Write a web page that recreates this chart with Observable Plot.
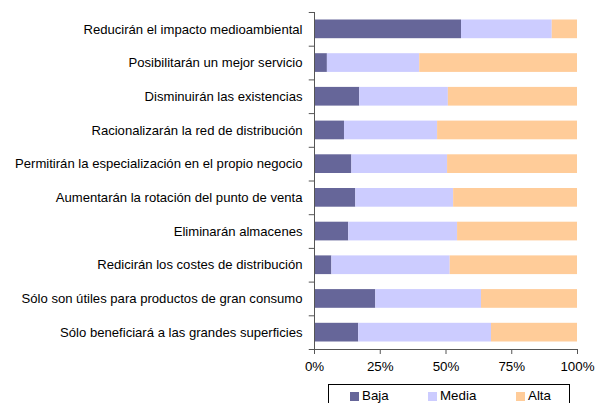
<!DOCTYPE html>
<html>
<head>
<meta charset="utf-8">
<script src="https://cdn.jsdelivr.net/npm/d3@7"></script>
<script src="https://cdn.jsdelivr.net/npm/@observablehq/plot@0.6"></script>
<style>
html, body { margin: 0; padding: 0; background: #fff; overflow: hidden; }
#wrap { position: relative; width: 595px; height: 403px; font-family: "Liberation Sans", Arial, sans-serif; }
#legend { position: absolute; left: 328px; top: 384px; width: 242px; height: 30px; border: 1px solid #000; box-sizing: border-box; font-size: 13.33px; }
.sw { position: absolute; top: 7px; width: 9px; height: 9px; }
.tx { position: absolute; top: 4px; line-height: 13px; color: #000; }
</style>
</head>
<body>
<div id="wrap"><div id="chart"></div><div id="legend"></div></div>
<script>
const categories = [
  "Reducirán el impacto medioambiental",
  "Posibilitarán un mejor servicio",
  "Disminuirán las existencias",
  "Racionalizarán la red de distribución",
  "Permitirán la especialización en el propio negocio",
  "Aumentarán la rotación del punto de venta",
  "Eliminarán almacenes",
  "Redicirán los costes de distribución",
  "Sólo son útiles para productos de gran consumo",
  "Sólo beneficiará a las grandes superficies"
];
const series = ["Baja", "Media", "Alta"];
const baja  = [55.9, 4.9, 17.2, 11.4, 14.2, 15.7, 13.0, 6.6, 23.3, 16.8];
const media = [34.5, 35.1, 33.7, 35.4, 36.4, 37.2, 41.4, 45.0, 40.2, 50.5];
const alta  = [9.6, 60.0, 49.1, 53.2, 49.4, 47.1, 45.6, 48.4, 36.5, 32.7];
const colors = ["#666699", "#CCCCFF", "#FFCC99"];
const xTicks = [0, 25, 50, 75, 100];

const values = [baja, media, alta];
const data = [];
categories.forEach((c, i) => series.forEach((s, j) => data.push({cat: c, serie: s, value: values[j][i]})));

const W = 595, H = 380, mt = 12, mb = 31;
const step = (H - mt - mb) / categories.length;

const plot = Plot.plot({
  width: W,
  height: H,
  marginLeft: 314,
  marginRight: 18,
  marginTop: mt,
  marginBottom: mb,
  style: {fontFamily: "'Liberation Sans', Arial, sans-serif", fontSize: "13.1px", color: "#000"},
  x: {domain: [0, 100], ticks: xTicks, tickFormat: d => d + "%", label: null},
  y: {domain: categories, paddingInner: 0.445, paddingOuter: 0.2225, round: false, label: null},
  color: {domain: series, range: colors},
  marks: [
    Plot.barX(data, Plot.stackX({y: "cat", x: "value", fill: "serie", order: series})),
    Plot.axisY({tickSize: 0, tickPadding: 12, fontSize: 13.1, fill: "#000"}),
    Plot.axisX({ticks: xTicks, tickFormat: d => d + "%", tickSize: 5, tickPadding: 7, fontSize: 13.33, stroke: "#555", fill: "#000"}),
    Plot.ruleY(categories, {y: d => d, dy: -step / 2, x1: -2, x2: 0, stroke: "#555"}),
    Plot.ruleY(categories.slice(-1), {y: d => d, dy: step / 2, x1: -2, x2: 0, stroke: "#555"}),
    Plot.ruleX([0], {stroke: "#555"}),
    Plot.ruleY(categories.slice(-1), {y: d => d, dy: step / 2, stroke: "#555"})
  ]
});
document.getElementById("chart").appendChild(plot);

const legend = document.getElementById("legend");
const pos = [21, 99, 187];
series.forEach((s, j) => {
  const sw = document.createElement("span");
  sw.className = "sw";
  sw.style.left = pos[j] + "px";
  sw.style.background = colors[j];
  legend.appendChild(sw);
  const tx = document.createElement("span");
  tx.className = "tx";
  tx.style.left = (pos[j] + 12) + "px";
  tx.textContent = s;
  legend.appendChild(tx);
});
</script>
</body>
</html>
